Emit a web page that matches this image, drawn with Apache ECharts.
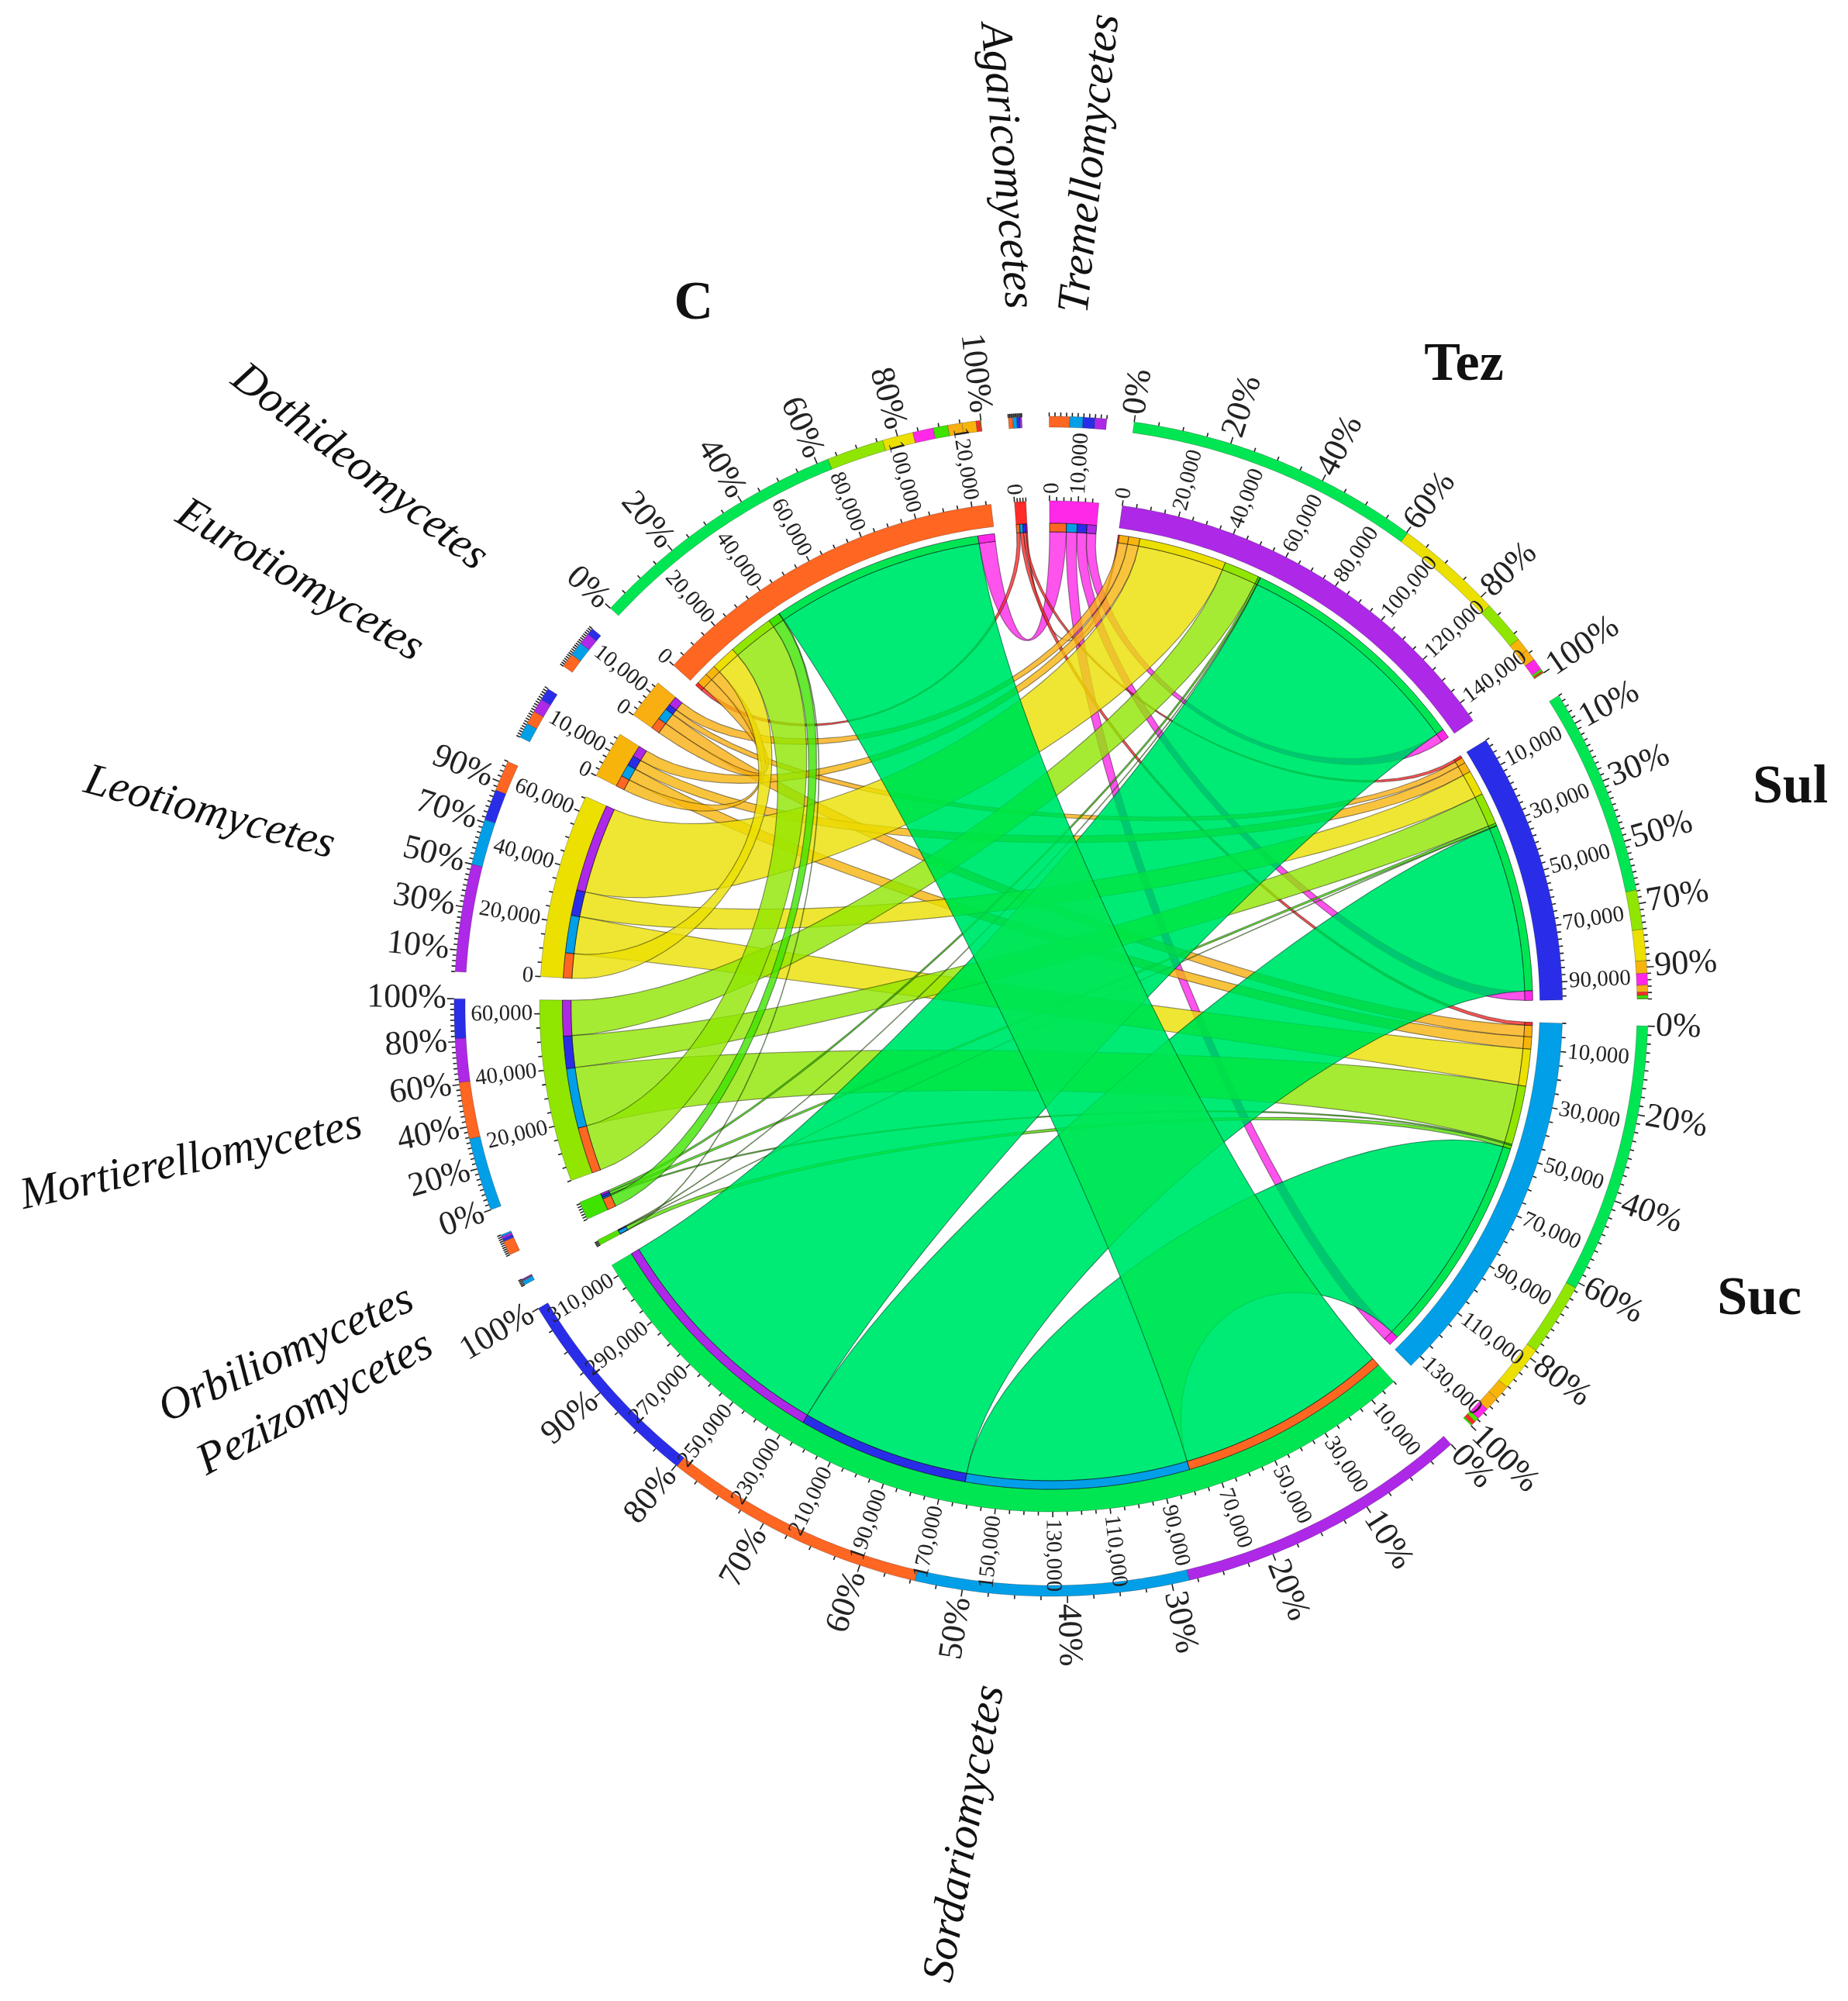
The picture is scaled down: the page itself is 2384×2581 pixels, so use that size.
<!DOCTYPE html>
<html><head><meta charset="utf-8">
<style>html,body{margin:0;padding:0;background:#fff}#c{width:2384px;height:2581px}</style>
<script src="https://cdn.jsdelivr.net/npm/echarts@6/dist/echarts.min.js"></script>
</head><body><div id="c"></div>
<script>
// ---- data (reads per sample x class) ----
const taxaAlpha = ['Agaricomycetes','Dothideomycetes','Eurotiomycetes','Leotiomycetes','Mortierellomycetes','Orbiliomycetes','Pezizomycetes','Sordariomycetes','Tremellomycetes'];
const flowTez = [500, 3500, 4200, 32800, 13300, 700, 200, 89000, 3500];
const flowSul = [1000, 2100, 3800, 9500, 12000, 900, 200, 63300, 3600];
const flowSuc = [1200, 4300, 4600, 14000, 22300, 500, 1300, 82500, 3900];
const flowC   = [1300, 4300, 4200, 9300, 17300, 4400, 200, 79500, 6200];
const sampleOrderInTaxon = ['C','Suc','Sul','Tez'];
const segmentOrder = ['Tez','Sul','Suc','Sordariomycetes','Pezizomycetes','Orbiliomycetes','Mortierellomycetes','Leotiomycetes','Eurotiomycetes','Dothideomycetes','C','Agaricomycetes','Tremellomycetes'];
const ribbonDrawOrder = ['Tremellomycetes','Agaricomycetes','Dothideomycetes','Eurotiomycetes','Leotiomycetes','Mortierellomycetes','Orbiliomycetes','Pezizomycetes'];
const segmentColors = {Tez:'#AE28E8',Sul:'#2A2DE8',Suc:'#009FE8',C:'#FF6622',Sordariomycetes:'#00E653',Pezizomycetes:'#55E000',Orbiliomycetes:'#3FE300',Mortierellomycetes:'#90E600',Leotiomycetes:'#EBE000',Eurotiomycetes:'#F7B50C',Dothideomycetes:'#F9AE12',Agaricomycetes:'#FF2A2A',Tremellomycetes:'#FF28E8'};
// [first labelled value, label step, minor tick step]
const valueTicks = {Tez:[0,20000,5000],Sul:[10000,20000,2500],Suc:[10000,20000,5000],Sordariomycetes:[10000,20000,5000],Pezizomycetes:[null,0,500],Orbiliomycetes:[null,0,1000],Mortierellomycetes:[20000,20000,5000],Leotiomycetes:[0,20000,5000],Eurotiomycetes:[0,10000,2500],Dothideomycetes:[0,10000,2500],C:[0,20000,5000],Agaricomycetes:[0,100000,1000],Tremellomycetes:[0,10000,2500]};
const percentTicks = {Tez:[0,20,5],Sul:[10,20,2],Suc:[0,20,2],Sordariomycetes:[0,10,2.5],Pezizomycetes:[null,0,25],Orbiliomycetes:[null,0,10],Mortierellomycetes:[0,20,2.5],Leotiomycetes:[10,20,2.5],Eurotiomycetes:[null,0,5],Dothideomycetes:[null,0,5],C:[0,20,5],Agaricomycetes:[null,0,10],Tremellomycetes:[null,0,10]};
// label: [name, clock angle, radius, rotation, style]
const nameLabels = [
 ['Tremellomycetes',2.7,1088,84,'i'],['Agaricomycetes',356.9,1086,-85,'i'],['Dothideomycetes',307.9,1131,-37.5,'i'],
 ['Eurotiomycetes',299.5,1114,-30.5,'i'],['Leotiomycetes',282.9,1114,-15,'i'],['Mortierellomycetes',259.8,1127,12,'i'],
 ['Orbiliomycetes',245.5,1084,24.5,'i'],['Pezizomycetes',241.6,1079,28,'i'],['Sordariomycetes',185.9,1073,80,'i'],
 ['C',333,1016,0,'b'],['Tez',32.8,983,0,'b'],['Sul',73.6,994,0,'b'],['Suc',112.5,989,0,'b']];

// ---- layout ----
const CX=1356, CY=1298, STRETCH=1.012, START_DEG=8, GAP=8200;
const R={mainOut:652,mainIn:623,sampleStripOut:614,sampleStripIn:604,taxonStripOut:623,taxonStripIn:612,pctIn:747,pctOut:761};
const flows={Tez:flowTez,Sul:flowSul,Suc:flowSuc,C:flowC};
const sum=a=>a.reduce((x,y)=>x+y,0);
const size={};
Object.keys(flows).forEach(s=>size[s]=sum(flows[s]));
taxaAlpha.forEach((t,i)=>size[t]=sum(sampleOrderInTaxon.map(s=>flows[s][i])));
const start={}; let cur=0;
segmentOrder.forEach(n=>{start[n]=cur;cur+=size[n]+GAP;});
const TOTAL=cur;
const isSample=n=>n in flows;

const arcs=[], ticks=[], tickTexts=[], ribbons=[], greenRibbons=[];
const sPos={}, tPos={};
Object.keys(flows).forEach(s=>{let u=start[s];taxaAlpha.forEach((t,i)=>{sPos[s+'|'+t]=[u,u+flows[s][i]];u+=flows[s][i];});});
taxaAlpha.forEach((t,i)=>{let u=start[t];sampleOrderInTaxon.forEach(s=>{tPos[s+'|'+t]=[u,u+flows[s][i]];u+=flows[s][i];});});
segmentOrder.forEach(n=>arcs.push({v0:start[n],v1:start[n]+size[n],r0:R.mainIn,r1:R.mainOut,color:segmentColors[n],line:'rgba(0,0,0,0.25)',lw:1}));
Object.keys(flows).forEach(s=>taxaAlpha.forEach(t=>{const p=sPos[s+'|'+t];arcs.push({v0:p[0],v1:p[1],r0:R.sampleStripIn,r1:R.sampleStripOut,color:segmentColors[t],line:'rgba(0,0,0,0.55)',lw:1});}));
taxaAlpha.forEach(t=>sampleOrderInTaxon.forEach(s=>{const p=tPos[s+'|'+t];arcs.push({v0:p[0],v1:p[1],r0:R.taxonStripIn,r1:R.taxonStripOut,color:segmentColors[s],line:'rgba(0,0,0,0.6)',lw:1});}));
segmentOrder.forEach(n=>{
  const parts=isSample(n)? taxaAlpha.map((t,i)=>[t,flows[n][i]]) : sampleOrderInTaxon.map(s=>[s,flows[s][taxaAlpha.indexOf(n)]]);
  parts.sort((a,b)=>b[1]-a[1]);
  let u=start[n];
  parts.forEach(p=>{arcs.push({v0:u,v1:u+p[1],r0:R.pctIn,r1:R.pctOut,color:segmentColors[p[0]],line:'rgba(0,0,0,0.3)',lw:0.8});u+=p[1];});
});
segmentOrder.forEach(n=>{
  const vt=valueTicks[n];
  for(let u=0;u<=size[n];u+=vt[2]){
    const maj=vt[0]!==null&&u>=vt[0]&&(u-vt[0])%vt[1]===0;
    ticks.push({v:start[n]+u,r0:R.mainOut,r1:R.mainOut+(maj?7:5)});
    if(maj&&u<=size[n]) tickTexts.push({v:start[n]+u,r:R.mainOut+9,text:u.toLocaleString('en-US'),font:'29px "Liberation Serif"'});
  }
  const pt=percentTicks[n];
  const steps=Math.round(100/pt[2]);
  for(let i=0;i<=steps;i++){
    const p=i*pt[2];
    const maj=pt[0]!==null&&p>=pt[0]&&(p-pt[0])%pt[1]===0;
    ticks.push({v:start[n]+size[n]*p/100,r0:R.pctOut,r1:R.pctOut+(maj?9:5)});
    if(maj) tickTexts.push({v:start[n]+size[n]*p/100,r:R.pctOut+10,text:p+'%',font:'44px "Liberation Serif"'});
  }
});
ribbonDrawOrder.forEach(t=>Object.keys(flows).forEach(s=>{
  ribbons.push({a:sPos[s+'|'+t],b:tPos[s+'|'+t],color:segmentColors[t]});
}));
Object.keys(flows).forEach(s=>{
  const t='Sordariomycetes';
  greenRibbons.push({a:sPos[s+'|'+t],b:tPos[s+'|'+t],color:segmentColors[t]});
});

// ---- drawing helpers ----
function pointFn(api){
  return (r,v)=>{const p=api.coord([r,v]);return [CX+(p[0]-CX)*STRETCH,p[1]];};
}
function arcPts(P,r,v0,v1){
  const n=Math.max(2,Math.ceil(Math.abs(v1-v0)/(TOTAL/720)));
  const o=[];for(let i=0;i<=n;i++)o.push(P(r,v0+(v1-v0)*i/n));return o;
}
const CREST=0.5, PURITY=0.65;
function bez(P,r0,a,r1,b){
  let d=((b-a)%TOTAL+TOTAL)%TOTAL, mid, dd;
  if(d>TOTAL/2){dd=TOTAL-d;mid=a-dd/2;}else{dd=d;mid=a+d/2;}
  const half=dd/TOTAL*Math.PI;
  const rm=(r0+r1)/2, rb=rm*Math.cos(half)*PURITY;
  const c=[P(r0,a),P(r0-CREST*(r0-rb),a),P(rb,mid),P(r1-CREST*(r1-rb),b),P(r1,b)];
  const o=[];const N=30;
  for(let i=1;i<N;i++){const t=i/N,m=1-t;
    const w=[m*m*m*m,4*m*m*m*t,6*m*m*t*t,4*m*t*t*t,t*t*t*t];
    o.push([0,1].map(k=>w.reduce((s,x,j)=>s+x*c[j][k],0)));
  }
  return o;
}
function ribbonPts(api,q){
  const P=pointFn(api),ra=R.sampleStripIn,rb=R.taxonStripIn;
  return [...arcPts(P,ra,q.a[0],q.a[1]),...bez(P,ra,q.a[1],rb,q.b[0]),...arcPts(P,rb,q.b[0],q.b[1]),...bez(P,rb,q.b[1],ra,q.a[0])];
}
function hexA(h,a){const n=parseInt(h.slice(1),16);return `rgba(${n>>16},${(n>>8)&255},${n&255},${a})`;}
function ribbonItem(list){
  return (p,api)=>{const q=list[p.dataIndex];
    return {type:'polygon',shape:{points:ribbonPts(api,q)},style:{fill:hexA(q.color,0.8),stroke:'rgba(0,0,0,0.42)',lineWidth:1.2,lineJoin:'round'}};};
}

const base={type:'custom',coordinateSystem:'polar',silent:true,animation:false,clip:false};
const option={
  animation:false,backgroundColor:'#fff',
  polar:{center:[CX,CY],radius:1200},
  angleAxis:{type:'value',min:0,max:TOTAL,startAngle:90-START_DEG,clockwise:true,show:false},
  radiusAxis:{type:'value',min:0,max:1200,show:false},
  series:[
   {...base,data:ribbons.map((_,i)=>i),z:2,renderItem:ribbonItem(ribbons)},
   // the green ribbons carry no red at all: clear it first, then lay the translucent green
   {...base,data:greenRibbons.map((_,i)=>i),z:2,blendMode:'multiply',renderItem(p,api){
     return {type:'polygon',shape:{points:ribbonPts(api,greenRibbons[p.dataIndex])},style:{fill:'#00FFFF'}};
   }},
   {...base,data:greenRibbons.map((_,i)=>i),z:2,renderItem:ribbonItem(greenRibbons)},
   {...base,data:arcs.map((_,i)=>i),z:3,renderItem(p,api){
     const P=pointFn(api),q=arcs[p.dataIndex];
     const pts=[...arcPts(P,q.r1,q.v0,q.v1),...arcPts(P,q.r0,q.v1,q.v0)];
     return {type:'polygon',shape:{points:pts},style:{fill:q.color,stroke:q.line,lineWidth:q.lw}};
   }},
   {...base,data:ticks.map((_,i)=>i),z:3,renderItem(p,api){
     const P=pointFn(api),q=ticks[p.dataIndex],a=P(q.r0,q.v),b=P(q.r1,q.v);
     return {type:'line',shape:{x1:a[0],y1:a[1],x2:b[0],y2:b[1]},style:{stroke:'#222',lineWidth:1.6}};
   }},
   {...base,data:tickTexts.map((_,i)=>i),z:4,renderItem(p,api){
     const P=pointFn(api),q=tickTexts[p.dataIndex],a=P(q.r,q.v);
     let th=Math.atan2(a[0]-CX,CY-a[1])*180/Math.PI;if(th<0)th+=360;
     const right=th<180;
     const rot=(right?90-th:270-th)*Math.PI/180;
     return {type:'text',x:a[0],y:a[1],rotation:rot,style:{text:q.text,font:q.font,fill:'#222',align:right?'left':'right',verticalAlign:'middle'}};
   }},
   {...base,data:nameLabels.map((_,i)=>i),z:4,renderItem(p,api){
     const q=nameLabels[p.dataIndex];
     const v=(q[1]-START_DEG)/360*TOTAL;
     const a=api.coord([q[2],v]);
     const font=q[4]==='i'?'italic 58px "Liberation Serif"':'bold 70px "Liberation Serif"';
     return {type:'text',x:a[0],y:a[1],rotation:q[3]*Math.PI/180,style:{text:q[0],font,fill:'#111',align:'center',verticalAlign:'middle'}};
   }}
  ]
};
echarts.init(document.getElementById('c'),null,{renderer:'canvas'}).setOption(option);
</script></body></html>
